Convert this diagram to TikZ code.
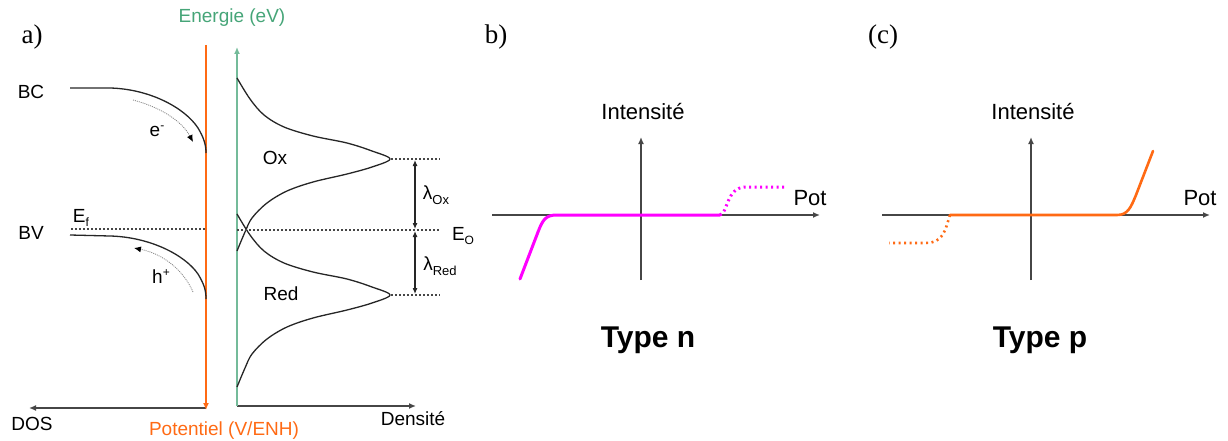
\documentclass[tikz,border=0pt]{standalone}
\usepackage{fontspec}
\setmainfont{Liberation Sans}
\newfontfamily\serifpanel{Liberation Serif}
\usetikzlibrary{arrows.meta}
\definecolor{orng}{RGB}{255,106,20}
\definecolor{grn}{RGB}{70,165,120}
\definecolor{mag}{RGB}{255,0,255}
\definecolor{axgrey}{RGB}{70,70,70}
\begin{document}
\begin{tikzpicture}[x=1pt,y=-1pt,
  txt/.style={inner sep=0pt, font=\fontsize{19}{22}\selectfont},
  bigtxt/.style={inner sep=0pt, font=\fontsize{22}{26}\selectfont},
  typ/.style={inner sep=0pt, font=\bfseries\fontsize{30}{34}\selectfont},
  panel/.style={inner sep=0pt, font=\serifpanel\fontsize{27}{30}\selectfont},
  band/.style={line width=1.3pt, black!85},
  axisline/.style={line width=1.5pt, axgrey, -{Latex[length=7pt,width=6pt]}},
  dotline/.style={dash pattern=on 2pt off 2pt, line width=1.2pt, axgrey},
  carrier/.style={dash pattern=on 1pt off 1pt, gray, line width=0.8pt, -{Latex[length=7pt,width=6pt,black]}},
  lam/.style={line width=1.1pt, black!85, {Latex[length=6pt,width=5pt]}-{Latex[length=6pt,width=5pt]}},
  solidmag/.style={line width=3pt, mag, line cap=round},
  dotmag/.style={line width=3pt, mag, dash pattern=on 2pt off 3.5pt},
  solidor/.style={line width=2.6pt, orng, line cap=round},
  dotor/.style={line width=2.6pt, orng, dash pattern=on 2pt off 3.5pt}
]
\useasboundingbox (0,0) rectangle (1228,441);

% ---------------- panel a ----------------
\node[panel] (la) at (32,37) {a)};
\node[txt, text=grn] (energie) at (232,18) {Energie (eV)};
\node[txt, text=orng] (potentiel) at (224,431) {Potentiel (V/ENH)};
\node[txt] (dos) at (32,424) {DOS};
\node[txt] (densite) at (413,419) {Densité};
\node[txt] (bc) at (31,92) {BC};
\node[txt] (bv) at (31,233) {BV};
\node[txt] (ef) at (81,218) {E\raisebox{-4pt}{\fontsize{12}{12}\selectfont f}};
\node[txt] (eo) at (463,236) {E\raisebox{-4pt}{\fontsize{12}{12}\selectfont O}};
\node[txt] (em) at (157,131) {e\raisebox{7pt}{\fontsize{12}{12}\selectfont -}};
\node[txt] (hp) at (161,277) {h\raisebox{7pt}{\fontsize{12}{12}\selectfont +}};
\node[txt] (ox) at (275,158) {Ox};
\node[txt] (red) at (281,294) {Red};
\node[txt] (lox) at (436,195) {λ\raisebox{-5pt}{\fontsize{13}{13}\selectfont Ox}};
\node[txt] (lred) at (440,266) {λ\raisebox{-5pt}{\fontsize{13}{13}\selectfont Red}};

% axes
\coordinate (otop) at (206,45);
\coordinate (obot) at (206,410);
\coordinate (dosorig) at (206,408);
\coordinate (dosend) at (29,408);
\coordinate (gorig) at (237,406);
\coordinate (gtop) at (237,47);
\coordinate (dend) at (416,406);
\draw[axisline] (dosorig) -- (dosend);
\draw[axisline] (gorig) -- (dend);
\draw[line width=1.5pt, grn!75, -{Latex[length=7pt,width=6pt]}] (gorig) -- (gtop);
\draw[line width=1.5pt, orng, -{Latex[length=7pt,width=6pt]}] (otop) -- (obot);

% bands
\draw[band] (70,88) -- (110,88) .. controls (150,89) and (185,108) .. (198,128) .. controls (204,138) and (206,145) .. (206,153);
\draw[band] (70,235) -- (110,236) .. controls (150,237) and (185,255) .. (198,274) .. controls (204,284) and (206,290) .. (206,299);
\draw[dotline] (71,229) -- (206,229);

% carriers
\coordinate (es) at (133,100);
\coordinate (ee) at (193,142);
\draw[carrier] (es) .. controls (160,107) and (182,121) .. (ee);
\coordinate (hs) at (193,292);
\coordinate (he) at (134,248);
\draw[carrier] (hs) .. controls (184,271) and (164,254) .. (he);

% Ox and Red densities
\foreach \s in {0,136}{
\draw[band, shift={(0,\s)}] plot[smooth, tension=0.55] coordinates {
 (237,78) (250,99) (264,115) (284,127) (313,136) (347,143) (372,151) (390,159)
 (372,167) (347,174) (313,182) (287,191) (267,203) (252,218) (245,232) (237,251)};
}

% dotted levels
\coordinate (oxpk) at (391,159);
\coordinate (oxend) at (440,159);
\coordinate (rdpk) at (391,295);
\coordinate (rdend) at (440,295);
\coordinate (eos) at (237,230);
\coordinate (eoend) at (440,230);
\draw[dotline] (oxpk) -- (oxend);
\draw[dotline] (rdpk) -- (rdend);
\draw[dotline] (eos) -- (eoend);
\draw[lam] (415,160) -- (415,229);
\draw[lam] (415,231) -- (415,294);

% ---------------- panel b ----------------
\node[panel] (lb) at (496,37) {b)};
\node[bigtxt] (intb) at (643,112) {Intensité};
\node[bigtxt] (potb) at (810,198) {Pot};
\node[typ] (typn) at (648,340) {Type n};
\coordinate (bvb) at (641,280);
\coordinate (bvt) at (641,137);
\coordinate (bhl) at (492,215);
\coordinate (bhr) at (820,215);
\draw[axisline] (bvb) -- (bvt);
\draw[axisline] (bhl) -- (bhr);
\coordinate (nflat) at (720,215);
\draw[solidmag] (520,279) -- (538,232) .. controls (543,219) and (546,215) .. (557,215) -- (nflat);
\draw[dotmag] (nflat) .. controls (728,213) and (726,188) .. (745,187) -- (785,187);

% ---------------- panel c ----------------
\node[panel] (lc) at (883,37) {(c)};
\node[bigtxt] (intc) at (1033,112) {Intensité};
\node[bigtxt] (potc) at (1200,198) {Pot};
\node[typ] (typp) at (1040,340) {Type p};
\coordinate (cvb) at (1031,280);
\coordinate (cvt) at (1031,137);
\coordinate (chl) at (882,215);
\coordinate (chr) at (1210,215);
\draw[axisline] (cvb) -- (cvt);
\draw[axisline] (chl) -- (chr);
\coordinate (pflat) at (950,215);
\draw[solidor] (pflat) -- (1117,215) .. controls (1128,215) and (1131,207) .. (1136,195) -- (1153,151);
\draw[dotor] (pflat) .. controls (945,230) and (944,243) .. (925,243) -- (889,243);
\end{tikzpicture}
\end{document}
